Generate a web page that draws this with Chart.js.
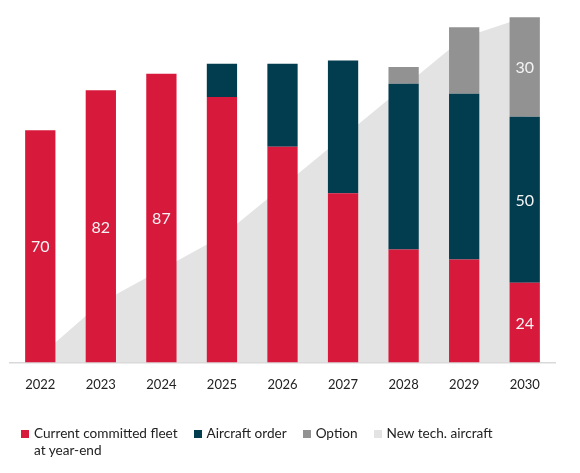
<!DOCTYPE html>
<html>
<head>
<meta charset="utf-8">
<script src="https://cdn.jsdelivr.net/npm/chart.js@4"></script>
<style>
  body { margin: 0; background: #fff; font-family: Lato, sans-serif; }
  #wrap { position: relative; width: 580px; height: 473px; }
  #legend { position: absolute; left: 21px; top: 425px; display: flex; align-items: flex-start; gap: 16px; font-size: 13.6px; line-height: 17px; color: #222; }
  .item { display: flex; align-items: flex-start; }
  .box { width: 8px; height: 8px; margin: 5px 5px 0 0; flex: none; }
  .txt { white-space: pre-line; }
</style>
</head>
<body>
<div id="wrap">
  <canvas id="fleet-chart"></canvas>
  <div id="legend"></div>
</div>
<script>
document.addEventListener('DOMContentLoaded', function() {
    // Values
    const years = ['2022', '2023', '2024', '2025', '2026', '2027', '2028', '2029', '2030'];
    const committedFleet = [70, 82, 87, 80, 65, 51, 34, 31, 24];
    const aircraftOrder = [0, 0, 0, 10, 25, 40, 50, 50, 50];
    const option = [0, 0, 0, 0, 0, 0, 5, 20, 30];
    const newTech = [2, 18, 28, 38, 53, 68, 83, 98, 104];

    // which bar segments carry a value label
    const fleetLabels = [0, 1, 2, 8];
    const orderLabels = [8];
    const optionLabels = [8];

    const valueLabels = {
        id: 'valueLabels',
        afterDatasetsDraw(chart) {
            const ctx = chart.ctx;
            const shown = [fleetLabels, orderLabels, optionLabels];
            ctx.save();
            ctx.font = '16px Lato';
            ctx.fillStyle = '#f4f4f4';
            ctx.textAlign = 'center';
            ctx.textBaseline = 'middle';
            shown.forEach(function(idx, d) {
                const meta = chart.getDatasetMeta(d);
                idx.forEach(function(i) {
                    const bar = meta.data[i];
                    const p = bar.getProps(['x', 'y', 'base'], true);
                    ctx.fillText(chart.data.datasets[d].data[i], p.x, (p.y + p.base) / 2 + 1);
                });
            });
            ctx.restore();
        }
    };

    const chart = new Chart(document.getElementById('fleet-chart'), {
        type: 'bar',
        data: {
            labels: years,
            datasets: [{
                label: 'Current committed fleet\nat year-end',
                data: committedFleet,
                backgroundColor: '#d71a3c',
                order: 0,
            }, {
                label: 'Aircraft order',
                data: aircraftOrder,
                backgroundColor: '#023d4f',
                order: 0,
            }, {
                label: 'Option',
                data: option,
                backgroundColor: '#929292',
                order: 0,
            }, {
                type: 'line',
                label: 'New tech. aircraft',
                data: newTech,
                stack: 'area',
                fill: 'origin',
                backgroundColor: '#e3e3e3',
                borderWidth: 0,
                pointRadius: 0,
                tension: 0,
                order: 1,
            }],
        },
        options: {
            responsive: true,
            maintainAspectRatio: false,
            animation: false,
            barPercentage: 0.5,
            categoryPercentage: 1,
            layout: { padding: { left: 10, right: 25, top: 14, bottom: 65 } },
            plugins: { legend: { display: false }, tooltip: { enabled: false } },
            scales: {
                x: {
                    stacked: true,
                    grid: { display: false, drawTicks: false },
                    border: { display: true, color: '#d9d9d9', width: 1.5 },
                    ticks: { padding: 15, color: '#222', font: { family: 'Lato', size: 13 } },
                },
                y: {
                    stacked: true,
                    display: false,
                    min: 0,
                    max: 105,
                },
            },
        },
        plugins: [valueLabels],
    });

    // HTML legend built from the datasets
    const legend = document.getElementById('legend');
    chart.data.datasets.forEach(function(ds) {
        const item = document.createElement('div');
        item.className = 'item';
        const box = document.createElement('span');
        box.className = 'box';
        box.style.background = ds.backgroundColor;
        const text = document.createElement('span');
        text.className = 'txt';
        text.textContent = ds.label;
        item.appendChild(box);
        item.appendChild(text);
        legend.appendChild(item);
    });
});
</script>
</body>
</html>
